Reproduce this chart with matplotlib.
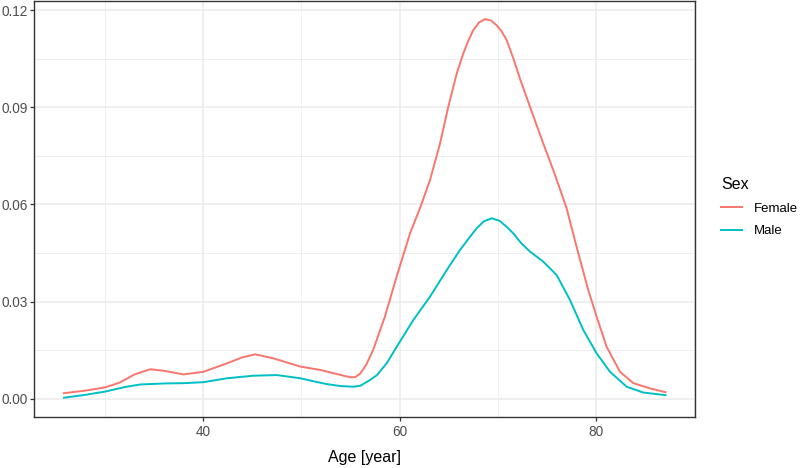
import matplotlib.pyplot as plt
import numpy as np

plt.rcParams['font.family'] = ['Liberation Sans', 'DejaVu Sans']

# density curves
female_age = [25.8, 28.0, 30.0, 31.5, 33.0, 34.6, 36.0, 38.0, 40.0, 42.4, 44.0, 45.3,
              47.1, 49.9, 51.9, 53.5, 54.3, 55.0, 55.5, 56.0, 56.6, 57.3, 58.5, 59.7,
              61.06, 62.1, 63.1, 64.12, 64.96, 65.82, 66.49, 67.0, 67.51, 68.1, 68.7,
              69.3, 69.89, 70.4, 70.9, 71.6, 72.3, 73.29, 74.64, 75.66, 77.0, 78.21,
              79.22, 80.08, 81.1, 82.46, 83.81, 85.51, 87.1]
female_dens = [0.0017, 0.0025, 0.0035, 0.0050, 0.0075, 0.0091, 0.0086, 0.0075, 0.0083, 0.0109,
               0.0128, 0.0137, 0.0125, 0.0099, 0.0089, 0.0077, 0.0071, 0.0066, 0.0067, 0.0078,
               0.0105, 0.0150, 0.0253, 0.0377, 0.0510, 0.0590, 0.0675, 0.0788, 0.0901, 0.1004,
               0.1066, 0.1105, 0.1138, 0.1162, 0.1172, 0.1168, 0.1153, 0.1134, 0.1108, 0.1050,
               0.0985, 0.0901, 0.0788, 0.0706, 0.0590, 0.0449, 0.0336, 0.0253, 0.0160, 0.0083,
               0.0048, 0.0032, 0.0020]

male_age = [25.8, 28.0, 30.0, 32.0, 33.6, 36.0, 38.0, 40.0, 42.4, 45.1, 47.5, 49.9,
            51.5, 52.6, 54.0, 55.3, 56.0, 57.0, 57.7, 58.7, 59.7, 61.4, 63.1, 64.8,
            66.15, 67.1, 67.85, 68.6, 69.4, 70.2, 70.9, 71.6, 72.4, 73.3, 74.64, 76.0,
            77.36, 78.72, 80.08, 81.44, 83.14, 84.83, 87.1]
male_dens = [0.0003, 0.0012, 0.0022, 0.0036, 0.0044, 0.0047, 0.0048, 0.0051, 0.0063, 0.0071,
             0.0073, 0.0063, 0.0052, 0.0045, 0.0039, 0.0037, 0.0040, 0.0058, 0.0073, 0.0110,
             0.0160, 0.0243, 0.0315, 0.0397, 0.0459, 0.0497, 0.0526, 0.0548, 0.0557, 0.0549,
             0.0531, 0.0510, 0.0480, 0.0454, 0.0423, 0.0382, 0.0305, 0.0212, 0.0140, 0.0083,
             0.0037, 0.0019, 0.0011]

x_ticks = [40, 60, 80]
y_ticks = [0.00, 0.03, 0.06, 0.09, 0.12]
y_labels = ['0.00', '0.03', '0.06', '0.09', '0.12']

fig = plt.figure(figsize=(8, 4.68), dpi=100)
ax = fig.add_axes([34 / 800, 51 / 468, 661 / 800, 416 / 468])

ax.plot(female_age, female_dens, color='#F8766D', lw=1.4, label='Female', zorder=3,
        solid_joinstyle='round')
ax.plot(male_age, male_dens, color='#00BFC4', lw=1.4, label='Male', zorder=3,
        solid_joinstyle='round')

ax.set_xlim(22.75, 90.1)
ax.set_ylim(-0.00565, 0.1228)
ax.set_xticks(x_ticks)
ax.set_xticks([30, 50, 70, 90], minor=True)
ax.set_yticks(y_ticks)
ax.set_yticklabels(y_labels)
ax.set_yticks([0.015, 0.045, 0.075, 0.105], minor=True)

ax.grid(which='major', color='#EBEBEB', lw=1.1, zorder=0)
ax.grid(which='minor', color='#EBEBEB', lw=0.55, zorder=0)
ax.set_axisbelow(True)
for s in ax.spines.values():
    s.set_color('#333333')
    s.set_linewidth(1.0)
ax.tick_params(which='major', length=2.75, width=0.9, color='#333333',
               labelsize=9.8, labelcolor='#4D4D4D', pad=2)
ax.tick_params(axis='x', pad=3)
ax.tick_params(which='minor', length=0)

ax.set_xlabel('Age [year]', fontsize=11.5, color='black', labelpad=8)

leg = ax.legend(loc='upper left', bbox_to_anchor=(709 / 800, 1 - 165 / 468),
                bbox_transform=fig.transFigure, frameon=False, title='Sex',
                fontsize=9.5, title_fontsize=11.5, handlelength=1.6,
                handletextpad=0.9, labelspacing=0.8)
leg._legend_box.align = 'left'

fig.savefig('out.png', dpi=100)
